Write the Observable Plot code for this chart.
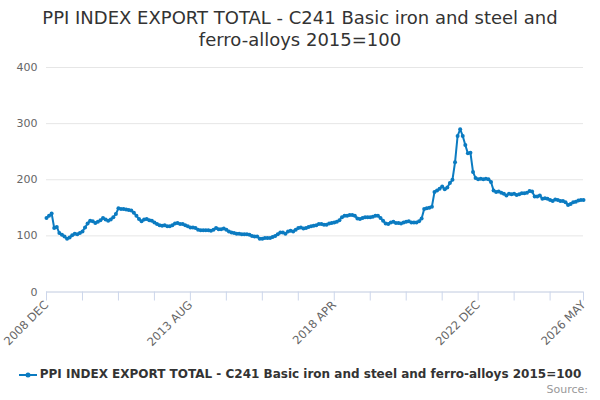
<!DOCTYPE html>
<html>
<head>
<meta charset="utf-8">
<script src="https://cdn.jsdelivr.net/npm/d3@7"></script>
<script src="https://cdn.jsdelivr.net/npm/@observablehq/plot@0.6"></script>
<style>
  body { margin: 0; background: #fff; font-family: "DejaVu Sans", sans-serif; }
  #wrap { width: 600px; height: 400px; position: relative; overflow: hidden; }
  #title { height: 52px; box-sizing: border-box; padding-top: 7px; text-align: center; font-size: 18px; line-height: 22px; color: #333; }
  #legend { position: absolute; left: 0; top: 367px; width: 600px; text-align: center; font-size: 12px; font-weight: bold; color: #333; white-space: nowrap; }
  #legend svg { vertical-align: middle; margin-right: 3px; }
  #source { position: absolute; right: 12px; top: 383px; font-size: 11px; color: #999; }
</style>
</head>
<body>
<div id="wrap">
  <div id="title">PPI INDEX EXPORT TOTAL - C241 Basic iron and steel and<br>ferro-alloys 2015=100</div>
  <div id="chart"></div>
  <div id="legend"><svg width="18" height="10"><line x1="0" y1="5" x2="18" y2="5" stroke="#0b7bc1" stroke-width="2"/><circle cx="9" cy="5" r="2.5" fill="#0b7bc1"/></svg>PPI INDEX EXPORT TOTAL - C241 Basic iron and steel and ferro-alloys 2015=100</div>
  <div id="source">Source:</div>
</div>
<script>
const seriesName = "PPI INDEX EXPORT TOTAL - C241 Basic iron and steel and ferro-alloys 2015=100";
const monthNames = ["JAN","FEB","MAR","APR","MAY","JUN","JUL","AUG","SEP","OCT","NOV","DEC"];
const startYear = 2008, startMonth = 11; // 2008 DEC
const values = [
  132,
  136,140,114,116,105,102,99,95,97,101,104,103,
  105,108,115,122,127,126,123,125,128,132,129,127,
  129,133,139,149,148,148,147,146,145,141,136,130,
  126,129,130,128,127,124,121,119,118,119,117,117,
  119,122,123,121,121,119,117,115,115,114,111,110,
  110,110,110,109,111,114,112,112,113,111,108,106,
  105,104,104,103,103,103,102,100,99,99,95,95,
  96,96,96,98,100,103,106,106,104,108,109,108,
  111,114,115,113,114,116,117,118,119,121,121,120,
  120,122,123,124,125,128,133,136,136,137,137,136,
  131,130,132,133,133,133,134,136,136,132,127,122,
  121,124,125,123,123,122,124,125,126,124,124,124,
  126,131,148,149,150,152,178,181,184,188,183,186,
  194,200,231,278,290,278,262,247,248,214,203,201,
  202,201,202,201,196,181,178,179,177,175,172,175,
  174,175,173,174,176,176,177,180,179,170,170,172,
  166,167,166,164,162,165,164,162,162,160,155,157,
  160,161,163,164,164
];
const tickLabels = ["2008 DEC", "2013 AUG", "2018 APR", "2022 DEC", "2026 MAY"];
const yTicks = [0, 100, 200, 300, 400];

const months = values.map((_, i) => {
  const m = startMonth + i;
  return `${startYear + Math.floor(m / 12)} ${monthNames[m % 12]}`;
});
const data = values.map((v, i) => ({month: months[i], value: v}));
const minorTicks = months.filter((_, i) => i % 14 === 0 || i === months.length - 1);
const color = "#0b7bc1";

const chart = Plot.plot({
  width: 600,
  height: 310,
  marginTop: 15,
  marginBottom: 70.5,
  marginLeft: 46,
  marginRight: 17,
  style: {fontFamily: "DejaVu Sans, sans-serif", fontSize: "11px", color: "#666", background: "#fff"},
  x: {type: "point", domain: months, padding: 0},
  y: {domain: [0, 400]},
  marks: [
    Plot.gridY(yTicks, {stroke: "#e6e6e6", strokeOpacity: 1}),
    Plot.axisY(yTicks, {tickSize: 0, tickPadding: 9, fill: "#666", label: null}),
    Plot.ruleY([0], {stroke: "#ccd6eb"}),
    Plot.axisX(minorTicks, {tickSize: 9, tickFormat: () => "", stroke: "#ccd6eb", label: null}),
    Plot.axisX(tickLabels, {tickSize: 0, tickRotate: -45, tickPadding: 11, fill: "#666", fontSize: 11.5, label: null}),
    Plot.line(data, {x: "month", y: "value", stroke: color, strokeWidth: 2}),
    Plot.dot(data, {x: "month", y: "value", r: 2, fill: color, stroke: null})
  ]
});
document.getElementById("chart").appendChild(chart);
</script>
</body>
</html>
